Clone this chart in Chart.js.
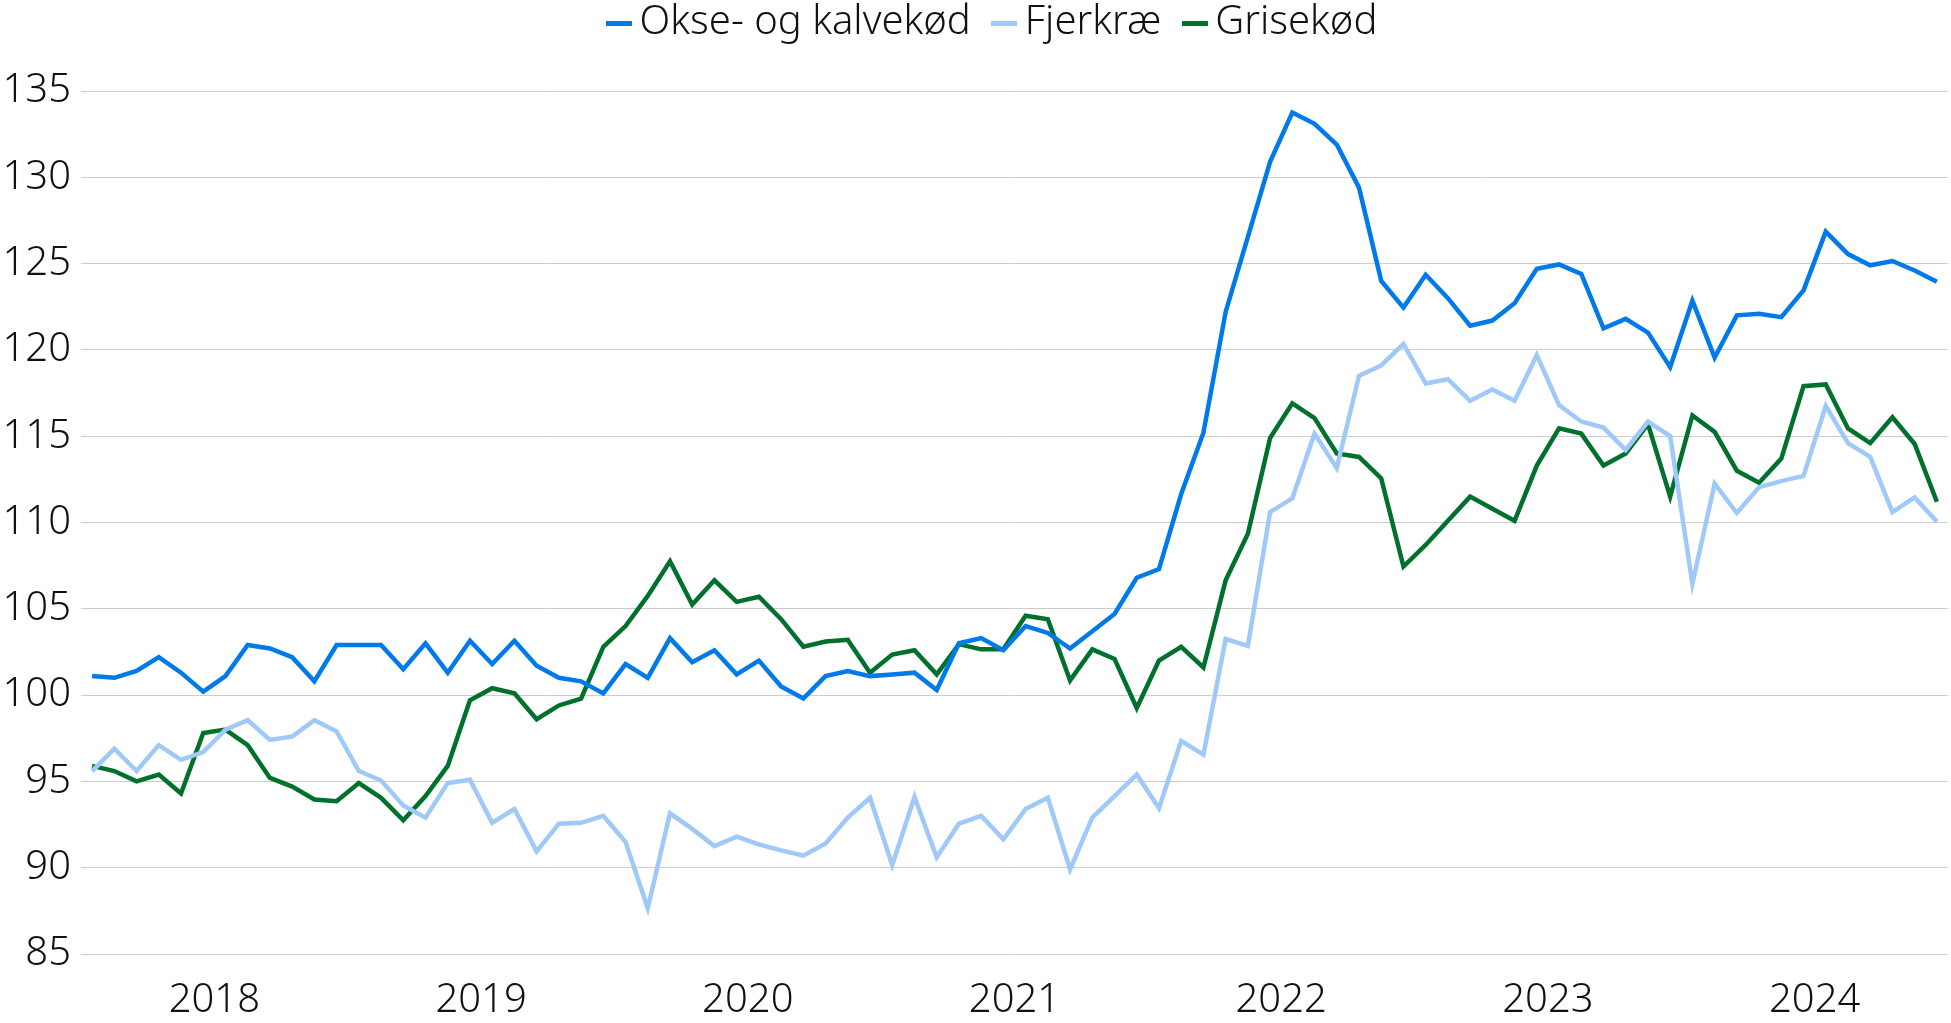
<!DOCTYPE html>
<html>
<head>
<meta charset="utf-8">
<script src="https://cdn.jsdelivr.net/npm/chart.js@4.4.1/dist/chart.umd.min.js"></script>
<style>
  html, body { margin: 0; padding: 0; background: #ffffff; }
  #wrap { width: 1951px; height: 1023px; position: relative; }
</style>
</head>
<body>
<div id="wrap"><canvas id="c" width="1951" height="1023"></canvas></div>
<script>
// Monthly index values, Jan 2018 – Dec 2024
const yearLabels = ['2018', '2019', '2020', '2021', '2022', '2023', '2024'];
const seriesNames = ['Okse- og kalvekød', 'Fjerkræ', 'Grisekød'];

const okseKalv = [
  101.1, 101.0, 101.4, 102.2, 101.3, 100.2, 101.1, 102.9, 102.7, 102.2, 100.8, 102.9,
  102.9, 102.9, 101.5, 103.0, 101.3, 103.15, 101.8, 103.15, 101.7, 101.0, 100.8, 100.1,
  101.8, 101.0, 103.3, 101.9, 102.6, 101.2, 102.0, 100.5, 99.8, 101.1, 101.4, 101.1,
  101.2, 101.3, 100.3, 103.0, 103.3, 102.6, 104.0, 103.6, 102.7, 103.7, 104.7, 106.8,
  107.3, 111.65, 115.2, 122.2, 126.55, 130.9, 133.75, 133.1, 131.9, 129.4, 124.0, 122.45,
  124.35, 123.0, 121.4, 121.7, 122.7, 124.7, 124.95, 124.4, 121.25, 121.8, 121.0, 119.0,
  122.85, 119.55, 122.0, 122.1, 121.9, 123.45, 126.85, 125.55, 124.9, 125.15, 124.6, 123.95
];
const fjerkrae = [
  95.6, 96.9, 95.6, 97.1, 96.25, 96.7, 98.0, 98.55, 97.4, 97.6, 98.55, 97.9,
  95.6, 95.05, 93.6, 92.9, 94.9, 95.1, 92.6, 93.4, 90.95, 92.55, 92.6, 93.0,
  91.5, 87.65, 93.15, 92.25, 91.25, 91.8, 91.35, 91.0, 90.7, 91.4, 92.9, 94.05,
  90.15, 94.1, 90.6, 92.55, 93.0, 91.65, 93.4, 94.05, 89.9, 92.9, 94.15, 95.4,
  93.45, 97.35, 96.55, 103.25, 102.85, 110.6, 111.4, 115.15, 113.15, 118.5, 119.1, 120.35,
  118.05, 118.3, 117.05, 117.7, 117.05, 119.7, 116.8, 115.85, 115.5, 114.2, 115.85, 115.0,
  106.45, 112.25, 110.55, 112.05, 112.4, 112.7, 116.75, 114.6, 113.8, 110.6, 111.45, 110.05
];
const grisekoed = [
  95.9, 95.6, 95.0, 95.4, 94.3, 97.8, 98.0, 97.1, 95.2, 94.7, 93.95, 93.85,
  94.9, 94.05, 92.75, 94.15, 95.9, 99.7, 100.4, 100.1, 98.6, 99.4, 99.8, 102.8,
  104.0, 105.75, 107.75, 105.25, 106.65, 105.4, 105.7, 104.4, 102.8, 103.1, 103.2, 101.3,
  102.35, 102.6, 101.2, 102.95, 102.65, 102.65, 104.6, 104.4, 100.85, 102.65, 102.1, 99.25,
  102.0, 102.8, 101.6, 106.65, 109.35, 114.9, 116.9, 116.05, 114.0, 113.8, 112.55, 107.45,
  108.7, 110.1, 111.5, 110.8, 110.1, 113.3, 115.45, 115.15, 113.3, 114.0, 115.7, 111.5,
  116.2, 115.25, 113.0, 112.3, 113.7, 117.9, 118.0, 115.45, 114.6, 116.1, 114.55, 111.2
];

const colors = ['rgb(0,122,235)', 'rgb(158,201,248)', 'rgb(0,112,45)'];
const allSeries = [okseKalv, fjerkrae, grisekoed];

const FONT = "'Noto Sans', 'Open Sans', sans-serif";
const FS = 40;

// legend marker: short thick bar in the series colour
function markerCanvas(color) {
  const cv = document.createElement('canvas');
  cv.width = 26; cv.height = 5;
  const cx = cv.getContext('2d');
  cx.fillStyle = color;
  cx.fillRect(0, 0, 26, 5);
  return cv;
}

const datasets = allSeries.map((vals, k) => ({
  label: seriesNames[k],
  data: vals.map((v, i) => ({ x: i, y: v })),
  borderColor: colors[k],
  backgroundColor: colors[k],
  borderWidth: 4.5,
  pointRadius: 0,
  pointHoverRadius: 0,
  pointStyle: markerCanvas(colors[k]),
  tension: 0,
  fill: false
}));

// nudge the legend row slightly right, as in the original
const legendShift = {
  id: 'legendShift',
  afterLayout(chart) {
    if (chart.legend) {
      chart.legend.left += 24;
      chart.legend.right += 24;
    }
  }
};

new Chart(document.getElementById('c'), {
  type: 'line',
  data: { datasets },
  plugins: [legendShift],
  options: {
    responsive: false,
    animation: false,
    devicePixelRatio: 1,
    layout: { padding: { top: -30, right: 3, bottom: 0, left: 0 } },
    plugins: {
      tooltip: { enabled: false },
      legend: {
        position: 'top',
        align: 'center',
        labels: {
          usePointStyle: true,
          pointStyleWidth: 1,
          boxHeight: 5,
          padding: 33,
          color: '#111',
          font: { family: FONT, size: FS, weight: '300' }
        }
      },
      // empty spacer between legend and plot area
      title: {
        display: true,
        text: '',
        weight: 500,
        padding: 0,
        font: { family: FONT, size: 38, lineHeight: 1 }
      }
    },
    scales: {
      x: {
        type: 'linear',
        min: -0.5,
        max: 83.5,
        grid: { display: false, drawTicks: false },
        border: { display: false },
        afterBuildTicks: (scale) => {
          scale.ticks = yearLabels.map((y, k) => ({ value: 5.5 + 12 * k }));
        },
        afterFit: (scale) => { scale.height = 69; },
        ticks: {
          autoSkip: false,
          maxRotation: 0,
          padding: 27,
          color: '#111',
          font: { family: FONT, size: FS, weight: '300', lineHeight: 1 },
          callback: (v) => yearLabels[Math.round((v - 5.5) / 12)]
        }
      },
      y: {
        min: 85,
        max: 135,
        afterFit: (scale) => { scale.width = 81; },
        grid: { color: '#cdcdcd', lineWidth: 1, drawTicks: false },
        border: { display: false },
        ticks: {
          stepSize: 5,
          padding: 10,
          color: '#111',
          font: { family: FONT, size: FS, weight: '300', lineHeight: 1.2 }
        }
      }
    }
  }
});
</script>
</body>
</html>
